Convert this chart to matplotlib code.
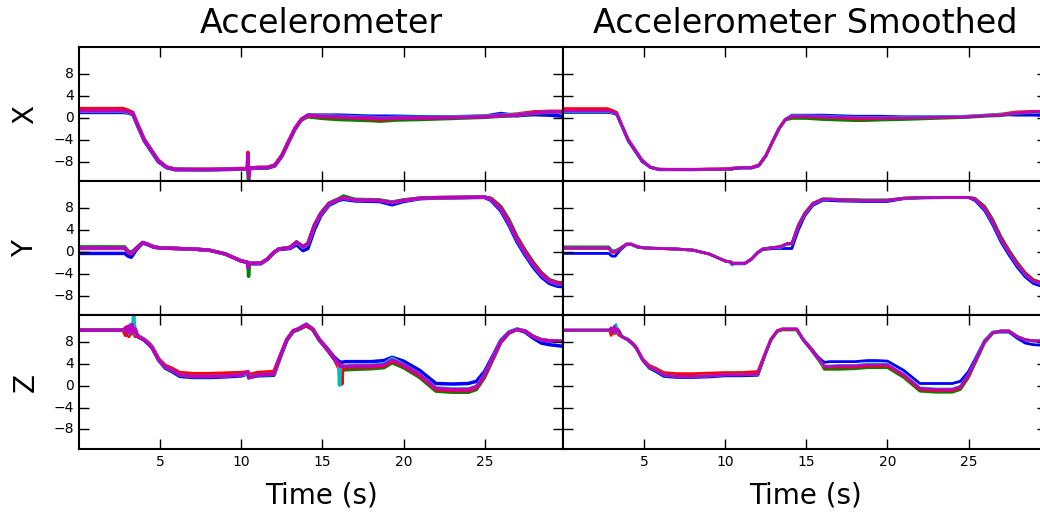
import numpy as np
import pandas as pd
import matplotlib
matplotlib.use('Agg')
import matplotlib.pyplot as plt

plt.style.use('classic')
plt.rcParams['figure.facecolor'] = 'white'
plt.rcParams['savefig.facecolor'] = 'white'

# tempo (s) e leituras de cada sensor, eixo X
t_x = [0.02, 1.0, 2.0, 2.7, 3.0, 3.3, 3.6, 4.0, 4.45, 4.86, 5.37, 5.9, 7.0, 8.0, 9.0, 10.0,
       10.36, 10.4, 10.44, 10.5, 11.0, 11.6, 12.06, 12.5, 12.9, 13.3, 13.7, 14.1, 15.0, 16.0,
       17.0, 18.0, 18.6, 19.5, 21.0, 23.0, 25.0, 26.0, 27.0, 28.0, 29.0, 29.86]
x_b = [1.0, 1.0, 1.0, 1.0, 0.9, 0.6, -1.5, -4.2, -6.2, -8.0, -9.1, -9.5, -9.5, -9.5, -9.45, -9.4,
       -9.4, -8.6, -10.2, -9.3, -9.2, -9.2, -8.8, -7.0, -4.5, -2.1, -0.3, 0.5, 0.5, 0.5,
       0.4, 0.3, 0.3, 0.3, 0.2, 0.2, 0.3, 0.8, 0.4, 0.6, 0.5, 0.3]
x_g = [1.2, 1.2, 1.2, 1.2, 1.0, 0.7, -1.3, -4.0, -6.0, -7.8, -9.0, -9.4, -9.45, -9.45, -9.4, -9.3,
       -9.4, -9.3, -12.0, -9.3, -9.1, -9.1, -8.7, -6.9, -4.4, -2.0, -0.4, 0.2, -0.1, -0.3,
       -0.4, -0.5, -0.6, -0.4, -0.3, -0.1, 0.1, 0.3, 0.4, 0.8, 1.0, 1.0]
x_r = [1.7, 1.7, 1.7, 1.7, 1.4, 1.0, -1.2, -3.9, -5.9, -7.7, -9.0, -9.4, -9.4, -9.4, -9.35, -9.25,
       -9.3, -6.3, -10.0, -9.2, -9.05, -9.05, -8.6, -6.8, -4.3, -1.9, -0.2, 0.4, 0.2, 0.1,
       0.0, -0.2, -0.3, -0.1, 0.0, 0.1, 0.3, 0.5, 0.7, 1.1, 1.2, 1.2]
x_c = [1.2, 1.2, 1.2, 1.2, 1.0, 0.8, -1.3, -4.0, -6.0, -7.8, -9.0, -9.4, -9.45, -9.45, -9.4, -9.3,
       -9.4, -7.8, -10.5, -9.2, -9.1, -9.1, -8.7, -6.9, -4.4, -2.0, -0.3, 0.5, 0.4, 0.3,
       0.2, 0.1, 0.0, 0.1, 0.1, 0.2, 0.3, 0.5, 0.6, 0.9, 1.1, 1.0]
x_m = [1.3, 1.3, 1.3, 1.3, 1.1, 0.8, -1.3, -4.0, -6.0, -7.8, -9.0, -9.4, -9.45, -9.45, -9.4, -9.3,
       -9.4, -6.6, -10.9, -9.2, -9.1, -9.1, -8.7, -6.9, -4.4, -2.0, -0.3, 0.5, 0.3, 0.2,
       0.1, 0.0, -0.1, 0.0, 0.0, 0.1, 0.2, 0.4, 0.5, 0.9, 1.1, 1.1]

# eixo Y
t_y = [0.02, 1.0, 2.0, 2.8, 3.0, 3.2, 3.5, 3.9, 4.2, 4.6, 5.0, 6.0, 7.0, 8.0, 9.0, 10.0,
       10.36, 10.4, 10.44, 10.5, 11.2, 11.6, 12.0, 12.3, 13.0, 13.4, 13.8, 14.1, 14.5, 14.9,
       15.4, 16.0, 16.3, 17.0, 18.5, 19.3, 20.0, 21.0, 22.0, 23.5, 25.0, 25.4, 26.0, 26.5,
       27.0, 27.5, 28.0, 28.5, 29.0, 29.5, 29.86]
y_b = [-0.3, -0.3, -0.3, -0.3, -0.8, -1.0, 0.3, 1.6, 1.3, 0.8, 0.7, 0.6, 0.5, 0.3, -0.4, -1.7,
       -1.9, -2.3, -2.4, -2.2, -2.2, -1.4, -0.2, 0.4, 0.6, 1.3, 0.2, 0.6, 4.0, 6.6,
       8.5, 9.4, 9.6, 9.3, 9.2, 8.6, 9.2, 9.7, 9.85, 9.9, 9.95, 9.4, 7.5, 4.9,
       1.8, -0.6, -2.8, -4.6, -5.8, -6.3, -6.4]
y_g = [0.9, 0.9, 0.9, 0.9, 0.2, -0.1, 0.6, 1.7, 1.4, 0.9, 0.7, 0.6, 0.5, 0.3, -0.4, -1.7,
       -1.9, -2.0, -4.5, -2.1, -2.1, -1.35, -0.1, 0.5, 0.8, 1.8, 1.0, 1.5, 4.9, 7.1,
       8.9, 9.7, 10.2, 9.6, 9.5, 9.1, 9.5, 9.8, 9.9, 9.95, 10.0, 9.8, 8.3, 5.9,
       2.8, 0.3, -1.9, -3.8, -5.1, -5.6, -5.7]
y_r = [0.6, 0.6, 0.6, 0.6, -0.1, -0.4, 0.6, 1.7, 1.4, 0.9, 0.7, 0.6, 0.5, 0.3, -0.4, -1.7,
       -1.9, -2.3, -2.5, -2.1, -2.1, -1.35, -0.1, 0.5, 0.8, 1.7, 0.8, 1.4, 4.8, 7.0,
       8.8, 9.6, 9.9, 9.5, 9.4, 9.0, 9.4, 9.8, 9.9, 9.95, 10.0, 9.7, 8.1, 5.6,
       2.5, 0.1, -2.1, -3.9, -5.2, -5.7, -5.8]
y_c = [0.7, 0.7, 0.7, 0.7, 0.0, -0.3, 0.6, 1.7, 1.4, 0.9, 0.7, 0.6, 0.5, 0.3, -0.4, -1.7,
       -1.9, -2.4, -2.6, -2.1, -2.1, -1.35, -0.1, 0.5, 0.8, 1.7, 0.8, 1.4, 4.7, 6.9,
       8.7, 9.6, 9.8, 9.5, 9.4, 9.0, 9.4, 9.8, 9.9, 9.95, 10.0, 9.6, 7.8, 5.3,
       2.2, -0.2, -2.4, -4.2, -5.4, -5.9, -5.9]
y_m = [0.7, 0.7, 0.7, 0.7, 0.0, -0.3, 0.6, 1.7, 1.4, 0.9, 0.7, 0.6, 0.5, 0.3, -0.4, -1.7,
       -1.9, -2.9, -2.2, -2.1, -2.1, -1.35, -0.1, 0.5, 0.8, 1.8, 0.9, 1.5, 4.8, 7.0,
       8.8, 9.6, 9.8, 9.5, 9.4, 9.0, 9.4, 9.8, 9.9, 9.95, 10.0, 9.6, 7.9, 5.4,
       2.3, -0.1, -2.3, -4.1, -5.35, -5.8, -5.85]

# eixo Z
t_z = [0.02, 1.0, 2.0, 2.7, 2.85, 2.95, 3.05, 3.15, 3.25, 3.35, 3.45, 3.6, 4.0, 4.3, 4.5, 4.9,
       5.3, 5.7, 6.2, 7.0, 8.0, 9.0, 10.0, 10.4, 10.45, 11.0, 12.0, 12.4, 12.8, 13.2, 13.5,
       14.0, 14.4, 14.8, 15.3, 15.7, 16.0, 16.05, 16.1, 16.2, 16.25, 16.4, 17.0, 18.0, 18.8,
       19.3, 20.0, 21.0, 22.0, 23.0, 24.0, 24.5, 25.0, 25.5, 26.0, 26.5, 27.0, 27.5, 28.0,
       28.5, 29.0, 29.86]
z_b = [10.15, 10.15, 10.15, 10.15, 10.1, 10.3, 9.9, 10.2, 10.0, 10.3, 9.9, 9.0, 8.3, 7.5, 6.8, 4.6,
       3.2, 2.6, 1.7, 1.5, 1.5, 1.6, 1.8, 2.2, 1.5, 1.8, 1.9, 5.2, 8.3, 10.0, 10.3,
       11.0, 10.3, 8.5, 6.8, 5.3, 4.5, 4.4, 4.3, 4.3, 4.3, 4.4, 4.4, 4.4, 4.6,
       5.2, 4.5, 2.8, 0.4, 0.3, 0.4, 0.8, 2.6, 5.4, 8.3, 9.8, 10.3, 9.8, 8.7,
       7.8, 7.5, 7.2]
z_g = [10.15, 10.15, 10.15, 10.15, 10.4, 9.8, 10.5, 9.9, 10.6, 10.0, 10.2, 9.0, 8.4, 7.6, 6.9, 4.7,
       3.3, 2.8, 1.9, 1.7, 1.7, 1.8, 2.0, 2.2, 1.6, 2.0, 2.0, 5.3, 8.3, 9.9, 10.2,
       11.0, 10.2, 8.3, 6.5, 4.9, 3.6, 3.3, 3.0, 3.0, 3.0, 2.9, 3.0, 3.1, 3.3,
       4.2, 3.3, 1.5, -1.0, -1.2, -1.2, -0.7, 1.5, 4.7, 7.9, 9.6, 10.3, 10.0, 9.0,
       8.4, 8.2, 8.1]
z_r = [10.15, 10.15, 10.15, 10.15, 9.2, 10.8, 9.0, 10.5, 9.5, 10.2, 9.0, 9.2, 8.5, 7.8, 7.1, 4.9,
       3.7, 3.2, 2.4, 2.2, 2.2, 2.3, 2.4, 2.5, 2.0, 2.4, 2.6, 5.6, 8.5, 10.1, 10.3,
       11.0, 10.3, 8.5, 6.7, 5.1, 3.2, 4.0, 3.4, 0.3, 3.4, 3.3, 3.4, 3.4, 3.6,
       4.5, 3.6, 1.8, -0.7, -0.9, -0.9, -0.4, 1.8, 4.9, 8.0, 9.7, 10.3, 10.0, 9.0,
       8.4, 8.2, 8.1]
z_c = [10.15, 10.15, 10.15, 10.15, 10.1, 10.5, 9.5, 11.2, 9.8, 12.9, 9.6, 9.1, 8.5, 7.7, 6.9, 4.7,
       3.4, 2.9, 2.0, 1.7, 1.7, 1.8, 2.0, 2.3, 1.6, 2.0, 2.1, 5.4, 8.4, 10.0, 10.4,
       11.3, 10.4, 8.4, 6.6, 5.0, 4.0, 0.1, 3.6, 3.6, 3.6, 3.6, 3.7, 3.7, 4.0,
       5.0, 3.9, 2.1, -0.4, -0.6, -0.6, -0.1, 2.1, 5.1, 8.2, 9.8, 10.4, 10.0, 9.0,
       8.4, 8.2, 8.1]
z_m = [10.15, 10.15, 10.15, 10.15, 10.6, 9.6, 10.9, 9.7, 11.2, 9.8, 10.4, 9.0, 8.4, 7.6, 6.9, 4.7,
       3.4, 2.9, 2.0, 1.7, 1.7, 1.8, 2.0, 2.6, 1.4, 2.0, 2.1, 5.4, 8.4, 10.0, 10.4,
       11.2, 10.4, 8.4, 6.6, 5.0, 4.1, 3.8, 3.5, 3.6, 3.5, 3.5, 3.6, 3.6, 3.8,
       4.7, 3.8, 2.0, -0.5, -0.7, -0.7, -0.2, 2.0, 5.0, 8.1, 9.7, 10.3, 10.0, 9.0,
       8.4, 8.2, 8.1]

eixos = ['X', 'Y', 'Z']
tempos = [t_x, t_y, t_z]
sensores = [
    {'b': x_b, 'g': x_g, 'r': x_r, 'c': x_c, 'm': x_m},
    {'b': y_b, 'g': y_g, 'r': y_r, 'c': y_c, 'm': y_m},
    {'b': z_b, 'g': z_g, 'r': z_r, 'c': z_c, 'm': z_m},
]


def suavizar(valores):
    # mediana móvel de 3 pontos remove os picos isolados
    return pd.Series(valores).rolling(3, center=True, min_periods=1).median().values


fig, axes = plt.subplots(3, 2, sharex=True, sharey=True, figsize=(10.4, 5.15), dpi=100)
fig.subplots_adjust(left=0.0763, right=1.007, bottom=0.128, top=0.908, wspace=0, hspace=0)

for i, eixo in enumerate(eixos):
    ax_raw = axes[i, 0]
    ax_suave = axes[i, 1]
    for cor, valores in sensores[i].items():
        ax_raw.plot(tempos[i], valores, color=cor, lw=2.5)
        ax_suave.plot(tempos[i], suavizar(valores), color=cor, lw=2.0)
    ax_raw.set_ylabel(eixo, fontsize=20, labelpad=10)

for ax in axes.flat:
    ax.set_xlim(0, 29.86)
    ax.set_ylim(-11.6, 12.9)
    ax.set_xticks([5, 10, 15, 20, 25])
    ax.set_yticks([-8, -4, 0, 4, 8])
    ax.tick_params(direction='in', length=7, width=1, labelsize=10,
                   top=True, right=True)
    for spine in ax.spines.values():
        spine.set_linewidth(1.5)

axes[0, 0].set_title('Accelerometer', fontsize=24, pad=10)
axes[0, 1].set_title('Accelerometer Smoothed', fontsize=24, pad=10)
axes[2, 0].set_xlabel('Time (s)', fontsize=20, labelpad=9)
axes[2, 1].set_xlabel('Time (s)', fontsize=20, labelpad=9)

plt.savefig('out.png', dpi=100)
